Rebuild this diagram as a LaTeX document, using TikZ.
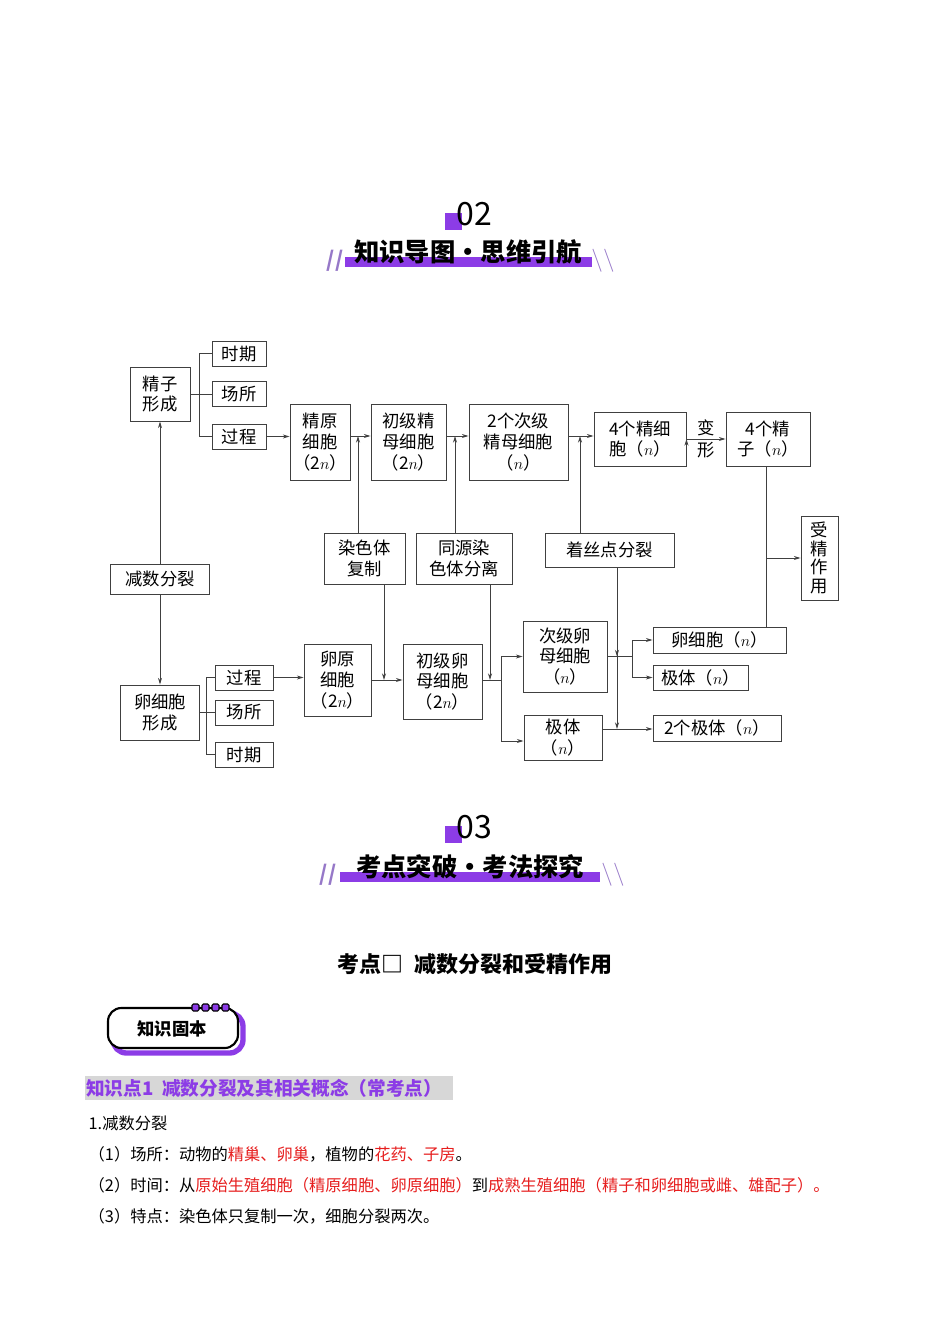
\documentclass[tikz,border=0pt]{standalone}
\usepackage{fontspec}
\setmainfont{Noto Sans CJK SC}
\usepackage{amsmath}
\usetikzlibrary{arrows.meta}
\definecolor{purp}{RGB}{140,60,230}
\definecolor{slashgray}{RGB}{150,120,200}
\definecolor{redtxt}{RGB}{230,30,30}
\definecolor{bggray}{RGB}{215,215,215}
\tikzset{
  box/.style={draw=black!75, line width=0.7pt, align=center, inner sep=1pt,
    font=\fontsize{13}{15.5}\selectfont},
  sz/.style 2 args={minimum width=#1*0.75pt, minimum height=#2*0.75pt},
  arr/.style={-{Stealth[length=5pt,width=3pt]}},
  ln/.style={draw=black!75, line width=0.7pt},
  body/.style={anchor=west, font=\fontsize{12.2}{14}\selectfont},
  slash/.style={text=slashgray, font=\fontsize{16}{16}\selectfont\bfseries}
}
\begin{document}
\begin{tikzpicture}[x=0.75pt, y=-0.75pt]
	\useasboundingbox (0,0) rectangle (950,1344);

	% section 02
	\fill[purp] (445,213) rectangle (462,230);
	\node (n02) at (474,214) {\fontsize{24}{24}\selectfont 02};
	\fill[purp] (345,257) rectangle (592,267);
	\node (h02) at (468,252) {\fontsize{19}{19}\selectfont\bfseries 知识导图·思维引航};
	\node[slash] (sl1) at (335,261) {//};
	\node[slash] (sr1) at (603,261) {$\backslash\backslash$};

	% sperm line
	\node[box, sz={60}{54}] (jzxc) at (160,394)     {精子\\形成};
	\node[box, sz={54}{25}] (sq1)  at (239,353.5)   {时期};
	\node[box, sz={54}{25}] (cs1)  at (239,394)     {场所};
	\node[box, sz={54}{25}] (gc1)  at (239,436.5)   {过程};
	\node[box, sz={60}{76}] (jy)   at (320,442)     {精原\\细胞\\（2$n$）};
	\node[box, sz={75}{76}] (cj)   at (408.5,442)   {初级精\\母细胞\\（2$n$）};
	\node[box, sz={99}{76}] (cjm)  at (518.5,442)   {2个次级\\精母细胞\\（$n$）};
	\node[box, sz={92}{54}] (jxb)  at (640,439)     {4个精细\\胞（$n$）};
	\node[box, sz={84}{54}] (jz)   at (768,439)     {4个精\\子（$n$）};
	\node[box, sz={37}{84}, font=\fontsize{13}{14}\selectfont] (sj) at (819.5,558) {受\\精\\作\\用};
	\node[box, sz={99}{30}] (js)   at (160,579)     {减数分裂};
	\node[box, sz={81}{51}] (rsfz) at (364.5,558.5) {染色体\\复制};
	\node[box, sz={96}{51}] (tyfl) at (464,558.5)   {同源染\\色体分离};
	\node[box, sz={129}{34}] (zsd) at (609.5,550)   {着丝点分裂};
	\coordinate (s) at (0,436);

	% egg line
	\node[box, sz={79}{55}] (lxbxc) at (160,712.5)  {卵细胞\\形成};
	\node[box, sz={58}{25}] (gc2)  at (244,677.5)   {过程};
	\node[box, sz={58}{25}] (cs2)  at (244,712.5)   {场所};
	\node[box, sz={58}{25}] (sq2)  at (244,754.5)   {时期};
	\node[box, sz={67}{72}] (ly)   at (337.5,680)   {卵原\\细胞\\（2$n$）};
	\node[box, sz={79}{75}] (cl)   at (442.5,681.5) {初级卵\\母细胞\\（2$n$）};
	\node[box, sz={84}{71}] (cjl)  at (565,656.5)   {次级卵\\母细胞\\（$n$）};
	\node[box, sz={78}{45}] (jt1)  at (563,737.5)   {极体\\（$n$）};
	\node[box, sz={133}{26}] (lxb) at (719.5,640)   {卵细胞（$n$）};
	\node[box, sz={95}{25}] (jt2)  at (700.5,677.5) {极体（$n$）};
	\node[box, sz={128}{26}] (jt3) at (717,728)     {2个极体（$n$）};
	\coordinate (e) at (0,680);

	% connectors, sperm
	\draw[ln] (jzxc.east) -- (cs1.west);
	\draw[ln] (sq1.west) -- ++(-12,0) |- (gc1.west);
	\draw[ln, arr] (gc1.east) -- (jy.west |- gc1.east);
	\draw[ln, arr] (jy.east |- s) -- (cj.west |- s);
	\draw[ln, arr] (cj.east |- s) -- (cjm.west |- s);
	\draw[ln, arr] (cjm.east |- s) -- (jxb.west |- s);
	\path[ln, arr] (jxb.east) edge node[align=center, font=\fontsize{13}{17}\selectfont]{变\\形} (jz.west);
	\draw[ln, arr] ([xshift=-6.5*0.75pt]rsfz.north) -- ([xshift=-6.5*0.75pt]rsfz.north |- s);
	\draw[ln, arr] ([xshift=-9*0.75pt]tyfl.north) -- ([xshift=-9*0.75pt]tyfl.north |- s);
	\draw[ln, arr] ([xshift=-29.5*0.75pt]zsd.north) -- ([xshift=-29.5*0.75pt]zsd.north |- s);
	\draw[ln] (jz.south -| 766,0) -- (766,0 |- lxb.north);
	\draw[ln, arr] (766,0 |- sj.west) -- (sj.west);
	\draw[ln, arr] (js.north) -- (jzxc.south);
	\draw[ln, arr] (js.south) -- (lxbxc.north);

	% connectors, egg
	\draw[ln] (lxbxc.east) -- (cs2.west);
	\draw[ln] (gc2.west) -- ++(-8,0) |- (sq2.west);
	\draw[ln, arr] (gc2.east) -- (ly.west |- gc2.east);
	\draw[ln, arr] (ly.east |- e) -- (cl.west |- e);
	\draw[ln, arr] ([xshift=19.5*0.75pt]rsfz.south) -- ([xshift=19.5*0.75pt]rsfz.south |- e);
	\draw[ln, arr] ([xshift=26*0.75pt]tyfl.south) -- ([xshift=26*0.75pt]tyfl.south |- e);
	\draw[ln] (cl.east |- e) -- (501,680);
	\draw[ln, arr] (501,680) |- (cjl.west);
	\draw[ln, arr] (501,680) |- (jt1.west |- 0,741);
	\draw[ln] (cjl.east) -- (632,656.5);
	\draw[ln, arr] (632,656.5) |- (lxb.west);
	\draw[ln, arr] (632,656.5) |- (jt2.west);
	\draw[ln, arr] ([xshift=7.5*0.75pt]zsd.south) -- ([xshift=7.5*0.75pt]zsd.south |- cjl.east);
	\draw[ln, arr] ([xshift=7.5*0.75pt]zsd.south) -- ([xshift=7.5*0.75pt]zsd.south |- 0,729);
	\draw[ln, arr] (jt1.east |- 0,729) -- (jt3.west |- 0,729);

	% section 03
	\fill[purp] (445,826) rectangle (462,843);
	\node (n03) at (474,827) {\fontsize{24}{24}\selectfont 03};
	\fill[purp] (340,872) rectangle (600,882);
	\node (h03) at (470,867) {\fontsize{19}{19}\selectfont\bfseries 考点突破·考法探究};
	\node[slash] (sl2) at (328,875) {//};
	\node[slash] (sr2) at (613,875) {$\backslash\backslash$};

	\node (kd) at (475,964) {\fontsize{16.5}{16}\selectfont\bfseries 考点□\ \ 减数分裂和受精作用};

	% badge
	\draw[purp, line width=4pt, rounded corners=10pt] (113,1013) rectangle (243,1053);
	\draw[black, line width=1.6pt, fill=white, rounded corners=10pt] (108,1008) rectangle (238,1048);
	\foreach \i in {0,1,2,3}
		\draw[black, fill=purp, line width=0.8pt, rounded corners=1pt] (192+\i*10,1004) rectangle (199+\i*10,1011);
	\node (badge) at (172,1029) {\fontsize{13}{13}\selectfont\bfseries 知识固本};

	\fill[bggray] (85,1076) rectangle (453,1100);
	\node[anchor=west, text=purp, inner sep=0pt] (zsd1) at (86,1088) {\fontsize{14}{14}\selectfont\bfseries 知识点1\ \ 减数分裂及其相关概念（常考点）};

	\node[body] (t1) at (84,1123) {1.减数分裂};
	\node[body] (t2) at (84,1154) {（1）场所：动物的\textcolor{redtxt}{精巢、卵巢}，植物的\textcolor{redtxt}{花药、子房}。};
	\node[body] (t3) at (84,1185) {（2）时间：从\textcolor{redtxt}{原始生殖细胞（精原细胞、卵原细胞）}到\textcolor{redtxt}{成熟生殖细胞（精子和卵细胞或雌、雄配子）。}};
	\node[body] (t4) at (84,1216) {（3）特点：染色体只复制一次，细胞分裂两次。};
\end{tikzpicture}
\end{document}
